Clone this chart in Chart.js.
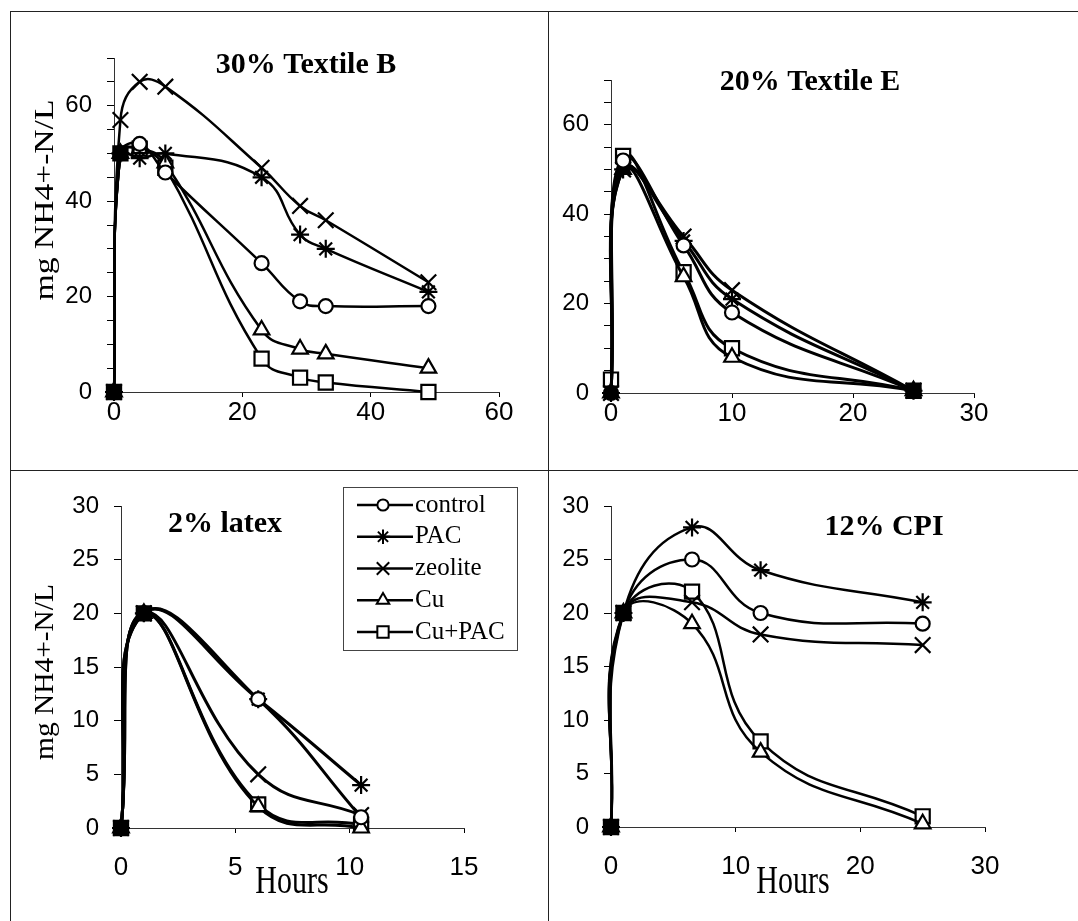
<!DOCTYPE html>
<html>
<head>
<meta charset="utf-8">
<title>NH4+-N over time</title>
<script src="https://cdn.jsdelivr.net/npm/chart.js@4.4.1/dist/chart.umd.min.js"></script>
<style>
  html, body { margin: 0; padding: 0; background: #fff; }
  body { width: 1078px; height: 921px; position: relative; overflow: hidden; }
  canvas { position: absolute; }
  .rule { position: absolute; background: #222; }
</style>
</head>
<body>
<div class="rule" style="left:10px; top:11px; width:1068px; height:1px;"></div>
<div class="rule" style="left:10px; top:11px; width:1px; height:910px;"></div>
<div class="rule" style="left:548px; top:11px; width:1px; height:910px;"></div>
<div class="rule" style="left:10px; top:470px; width:1068px; height:1px;"></div>

<canvas id="textileB" width="536" height="456" style="left:11px; top:13px;"></canvas>
<canvas id="textileE" width="529" height="456" style="left:549px; top:13px;"></canvas>
<canvas id="latex" width="536" height="450" style="left:11px; top:471px;"></canvas>
<canvas id="cpi" width="529" height="450" style="left:549px; top:471px;"></canvas>

<script>
    // series names, same order in every panel
    const seriesNames = ['control', 'PAC', 'zeolite', 'Cu', 'Cu+PAC'];

    // 30% Textile B
    const hoursB = [0, 1, 4, 8, 23, 29, 33, 49];
    const controlB = [0, 50, 52, 46, 27, 19, 18, 18];
    const pacB = [0, 50, 49, 50, 45, 33, 30, 21];
    const zeoliteB = [0, 57, 65, 64, 47, 39, 36, 23];
    const cuB = [0, 50, 51, 48, 13, 9, 8, 5];
    const cuPacB = [0, 50, 51, 47, 7, 3, 2, 0];

    // 20% Textile E
    const hoursE = [0, 1, 6, 10, 25];
    const controlE = [0, 52, 33, 18, 0.5];
    const pacE = [0, 50, 34, 21, 0.5];
    const zeoliteE = [0, 50, 35, 23, 0.5];
    const cuE = [0, 50, 26, 8, 0.5];
    const cuPacE = [3, 53, 27, 10, 0.5];

    // 2% latex
    const hoursL = [0, 1, 6, 10.5];
    const controlL = [0, 20, 12, 1];
    const pacL = [0, 20, 12, 4];
    const zeoliteL = [0, 20, 5, 1.2];
    const cuL = [0, 20, 2, 0];
    const cuPacL = [0, 20, 2.2, 0.3];

    // 12% CPI
    const hoursC = [0, 1, 6.5, 12, 25];
    const controlC = [0, 20, 25, 20, 19];
    const pacC = [0, 20, 28, 24, 21];
    const zeoliteC = [0, 20, 21, 18, 17];
    const cuC = [0, 20, 19, 7, 0.3];
    const cuPacC = [0, 20, 22, 8, 1];

    const markerStyles = ['circle', 'star', 'crossRot', 'triangle', 'rect'];
    const markerSizes = [7, 9, 11, 9, 10];

    const serif = '"Liberation Serif", "Times New Roman", serif';
    const sans = '"Liberation Sans", Arial, sans-serif';

    // free text: panel titles and axis titles
    const panelText = {
        id: 'panelText',
        afterDraw(chart, args, opts) {
            const ctx = chart.ctx;
            (opts.items || []).forEach(t => {
                ctx.save();
                ctx.translate(t.x, t.y);
                if (t.rotate) ctx.rotate(t.rotate * Math.PI / 180);
                ctx.scale(t.sx || 1, t.sy || 1);
                ctx.font = t.font;
                ctx.fillStyle = '#000';
                ctx.textAlign = 'center';
                ctx.textBaseline = t.baseline || 'alphabetic';
                ctx.fillText(t.text, 0, 0);
                ctx.restore();
            });
        }
    };

    // boxed legend with line through the marker
    const boxLegend = {
        id: 'boxLegend',
        afterDraw(chart, args, opts) {
            if (!opts.display) return;
            const ctx = chart.ctx;
            ctx.save();
            ctx.fillStyle = '#fff';
            ctx.fillRect(opts.x, opts.y, opts.w, opts.h);
            ctx.strokeStyle = '#444';
            ctx.lineWidth = 1;
            ctx.strokeRect(opts.x + 0.5, opts.y + 0.5, opts.w, opts.h);
            chart.data.datasets.forEach((ds, i) => {
                const y = opts.firstRow + i * opts.step;
                ctx.strokeStyle = '#000';
                ctx.lineWidth = 2.5;
                ctx.beginPath();
                ctx.moveTo(opts.lineFrom, y);
                ctx.lineTo(opts.lineTo, y);
                ctx.stroke();
                ctx.fillStyle = '#fff';
                ctx.lineWidth = 2;
                const pt = { pointStyle: ds.pointStyle, radius: ds.pointRadius * 0.8, borderWidth: 2, rotation: 0 };
                if (Chart.helpers && Chart.helpers.drawPoint) {
                    Chart.helpers.drawPoint(ctx, pt, opts.markX, y);
                } else {
                    ctx.beginPath();
                    ctx.arc(opts.markX, y, pt.radius, 0, Math.PI * 2);
                    ctx.fill();
                    ctx.stroke();
                }
                ctx.fillStyle = '#000';
                ctx.font = opts.font;
                ctx.textAlign = 'left';
                ctx.textBaseline = 'middle';
                ctx.fillText(ds.label, opts.textX, y);
            });
            ctx.restore();
        }
    };

    function buildDatasets(hours, lists, lineWidth) {
        return lists.map((vals, s) => ({
            label: seriesNames[s],
            data: hours.map((h, i) => ({ x: h, y: vals[i] })),
            showLine: true,
            tension: 0.45,
            borderColor: '#000',
            borderWidth: lineWidth,
            pointStyle: markerStyles[s],
            pointRadius: markerSizes[s],
            pointBorderWidth: 2.2,
            pointBorderColor: '#000',
            // points shared by three or more series look like a solid blob
            pointBackgroundColor: ctx => {
                const i = ctx.dataIndex;
                const same = lists.filter(v => Math.abs(v[i] - vals[i]) < 0.01).length;
                return same >= 3 ? '#000' : '#fff';
            },
            clip: false
        }));
    }

    function xAxis(max, step, height, pad) {
        return {
            type: 'linear', min: 0, max: max,
            afterFit: s => { s.height = height; },
            ticks: { stepSize: step, autoSkip: false, maxRotation: 0, color: '#000', padding: pad,
                     font: { family: sans, size: 26, lineHeight: 1 } },
            grid: { drawOnChartArea: false, tickLength: 5, tickColor: '#000' },
            border: { color: '#333', width: 1 }
        };
    }

    function yAxis(max, step, every, width) {
        return {
            min: 0, max: max,
            afterFit: s => { s.width = width; },
            ticks: { stepSize: step, autoSkip: false, color: '#000', padding: 15,
                     font: { family: sans, size: 24, lineHeight: 1 },
                     callback: v => (v % every === 0 ? v : '') },
            grid: { drawOnChartArea: false, tickLength: 7, tickColor: '#000' },
            border: { color: '#333', width: 1 }
        };
    }

    function makePanel(id, datasets, scales, padding, texts, legend) {
        return new Chart(document.getElementById(id), {
            type: 'scatter',
            data: { datasets: datasets },
            options: {
                responsive: false,
                animation: false,
                events: [],
                layout: { padding: padding },
                elements: { line: { capBezierPoints: false } },
                scales: scales,
                plugins: {
                    legend: { display: false },
                    tooltip: { enabled: false },
                    panelText: { items: texts },
                    boxLegend: legend || { display: false }
                }
            },
            plugins: [panelText, boxLegend]
        });
    }

    const yTitle = 'mg NH4+-N/L';

    makePanel('textileB',
        buildDatasets(hoursB, [controlB, pacB, zeoliteB, cuB, cuPacB], 2.5),
        { x: xAxis(60, 20, 40, 2.5), y: yAxis(70, 5, 20, 103) },
        { left: 0, top: 45, right: 48, bottom: 37 },
        [
            { text: '30% Textile B', x: 295, y: 60, font: 'bold 30px ' + serif },
            { text: yTitle, x: 35, y: 187, rotate: -90, sx: 1.2, baseline: 'middle', font: '28px ' + serif }
        ]);

    makePanel('textileE',
        buildDatasets(hoursE, [controlE, pacE, zeoliteE, cuE, cuPacE], 3),
        { x: xAxis(30, 10, 40, 2.5), y: yAxis(70, 5, 20, 62) },
        { left: 0, top: 67, right: 104, bottom: 36 },
        [
            { text: '20% Textile E', x: 261, y: 77, font: 'bold 30px ' + serif }
        ]);

    makePanel('latex',
        buildDatasets(hoursL, [controlL, pacL, zeoliteL, cuL, cuPacL], 3),
        { x: xAxis(15, 5, 60, 21.5), y: yAxis(30, 5, 5, 110) },
        { left: 0, top: 35, right: 83, bottom: 33 },
        [
            { text: '2% latex', x: 214, y: 61, font: 'bold 30px ' + serif },
            { text: yTitle, x: 35, y: 201, rotate: -90, sx: 1.05, baseline: 'middle', font: '28px ' + serif },
            { text: 'Hours', x: 281, y: 422, sy: 1.3, font: '30px ' + serif }
        ],
        { display: true, x: 332, y: 16, w: 174, h: 163, firstRow: 34, step: 31.75,
          lineFrom: 346, lineTo: 402, markX: 372, textX: 404, font: '25px ' + serif });

    makePanel('cpi',
        buildDatasets(hoursC, [controlC, pacC, zeoliteC, cuC, cuPacC], 2.5),
        { x: xAxis(30, 10, 60, 21.5), y: yAxis(30, 5, 5, 62) },
        { left: 0, top: 35, right: 93, bottom: 34 },
        [
            { text: '12% CPI', x: 335, y: 64, font: 'bold 30px ' + serif },
            { text: 'Hours', x: 244, y: 422, sy: 1.3, font: '30px ' + serif }
        ]);
</script>
</body>
</html>
